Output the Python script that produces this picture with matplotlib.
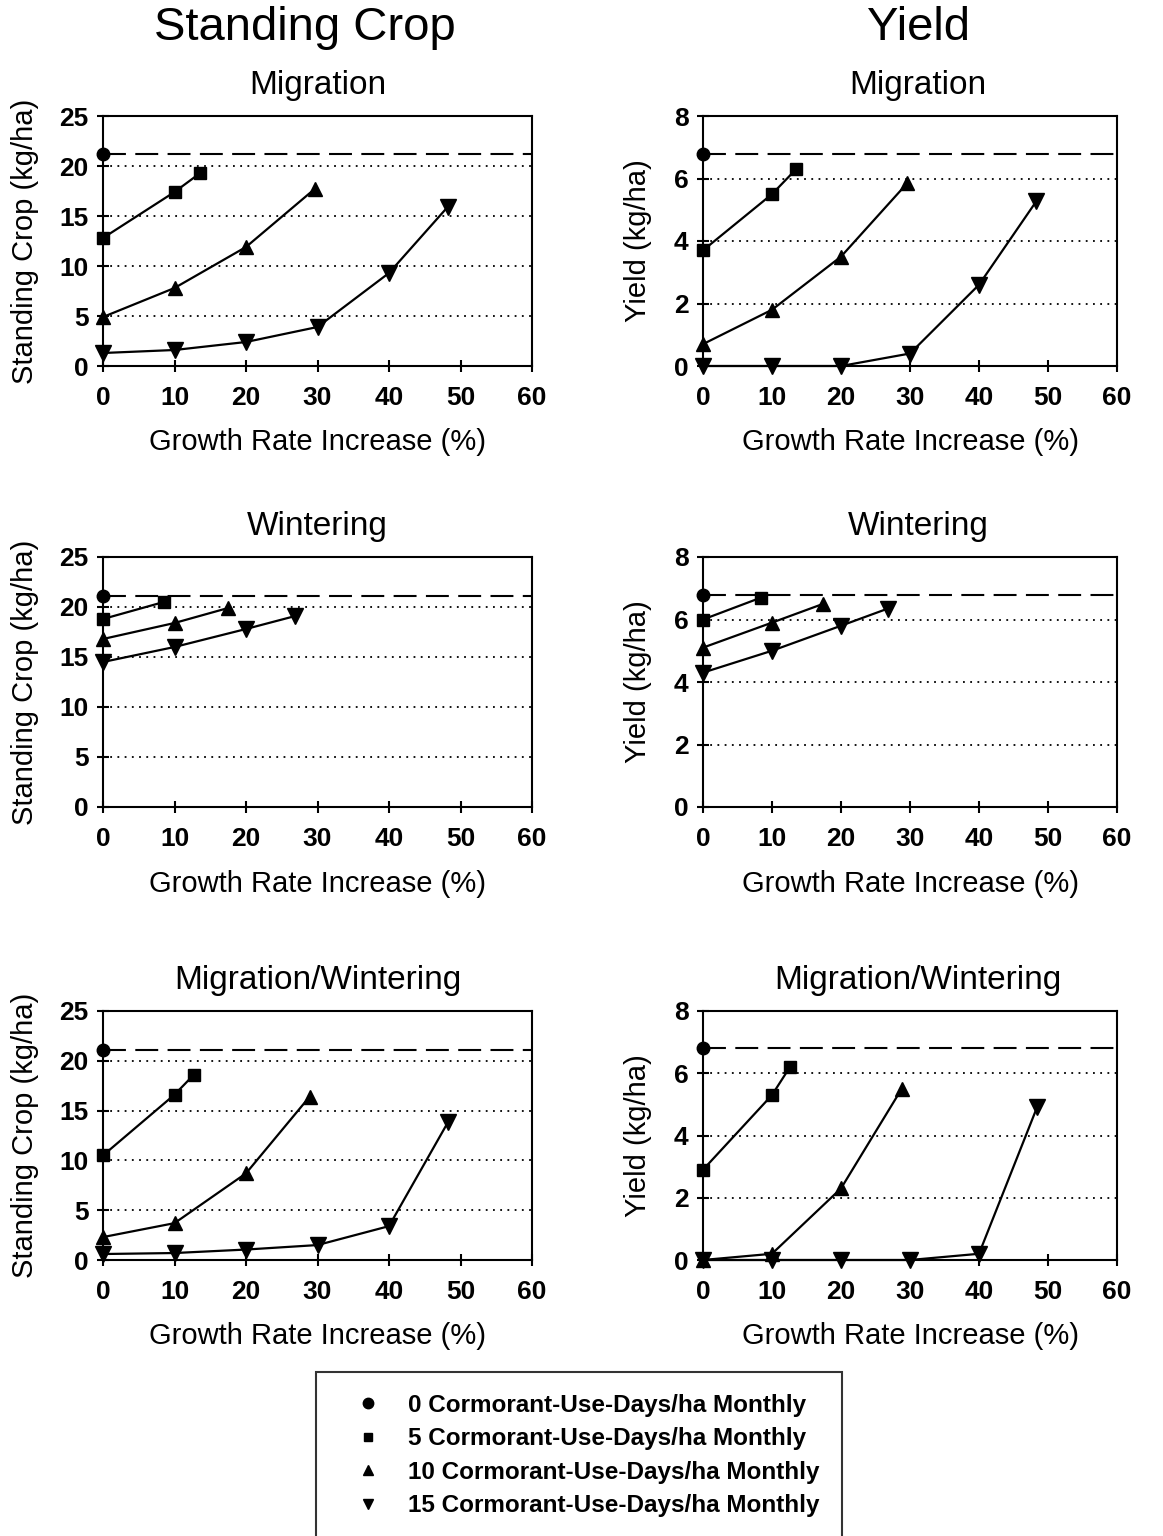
import numpy as np
import matplotlib
matplotlib.use("Agg")
import matplotlib.pyplot as plt
from matplotlib.lines import Line2D

plt.rcParams['font.family'] = ['Liberation Sans', 'DejaVu Sans']

# Growth rate increase (%) and responses
# series: 0, 5, 10, 15 cormorant-use-days/ha monthly
sc_mig_x5 = [0, 10, 13.6]
sc_mig_y5 = [12.8, 17.4, 19.3]
sc_mig_x10 = [0, 10, 20, 29.6]
sc_mig_y10 = [4.9, 7.8, 11.9, 17.7]
sc_mig_x15 = [0, 10, 20, 30, 40, 48.2]
sc_mig_y15 = [1.3, 1.6, 2.4, 3.9, 9.3, 15.9]

yld_mig_x5 = [0, 10, 13.5]
yld_mig_y5 = [3.7, 5.5, 6.3]
yld_mig_x10 = [0, 10, 20, 29.6]
yld_mig_y10 = [0.7, 1.8, 3.5, 5.85]
yld_mig_x15 = [0, 10, 20, 30, 40, 48.3]
yld_mig_y15 = [0, 0, 0, 0.4, 2.6, 5.27]

sc_win_x5 = [0, 8.5]
sc_win_y5 = [18.8, 20.5]
sc_win_x10 = [0, 10, 17.5]
sc_win_y10 = [16.8, 18.4, 19.9]
sc_win_x15 = [0, 10, 20, 26.9]
sc_win_y15 = [14.5, 16.0, 17.8, 19.1]

yld_win_x5 = [0, 8.4]
yld_win_y5 = [6.0, 6.7]
yld_win_x10 = [0, 10, 17.4]
yld_win_y10 = [5.1, 5.9, 6.5]
yld_win_x15 = [0, 10, 20, 26.8]
yld_win_y15 = [4.3, 5.0, 5.8, 6.35]

sc_mw_x5 = [0, 10, 12.7]
sc_mw_y5 = [10.5, 16.6, 18.6]
sc_mw_x10 = [0, 10, 20, 28.9]
sc_mw_y10 = [2.3, 3.7, 8.7, 16.4]
sc_mw_x15 = [0, 10, 20, 30, 40, 48.3]
sc_mw_y15 = [0.6, 0.7, 1.05, 1.5, 3.4, 13.9]

yld_mw_x5 = [0, 10, 12.6]
yld_mw_y5 = [2.9, 5.3, 6.2]
yld_mw_x10 = [0, 10, 20, 28.8]
yld_mw_y10 = [0, 0.2, 2.3, 5.5]
yld_mw_x15 = [0, 10, 20, 30, 40, 48.4]
yld_mw_y15 = [0, 0, 0, 0, 0.2, 4.9]

# no-cormorant baseline (single point at 0 %, also drawn as dashed line)
sc_base = [21.2, 21.1, 21.1]
yld_base = [6.8, 6.8, 6.8]

x_ticks = [0, 10, 20, 30, 40, 50, 60]
sc_ticks = [0, 5, 10, 15, 20, 25]
yld_ticks = [0, 2, 4, 6, 8]

row_titles = ['Migration', 'Wintering', 'Migration/Wintering']
legend_labels = ['0 Cormorant-Use-Days/ha Monthly',
                 '5 Cormorant-Use-Days/ha Monthly',
                 '10 Cormorant-Use-Days/ha Monthly',
                 '15 Cormorant-Use-Days/ha Monthly']

fig = plt.figure(figsize=(11.63, 15.36), dpi=100)
W, H = 1163.0, 1536.0


def panel(left, top, right, bottom, title, base, series, yticks, ylabel, tx, ylx):
    ax = fig.add_axes([left / W, 1 - bottom / H, (right - left) / W, (bottom - top) / H])
    ax.set_xlim(0, 60)
    ax.set_ylim(yticks[0], yticks[-1])
    # dotted grid at inner ticks
    for v in yticks[1:-1]:
        ax.axhline(v, color='black', lw=1.3, ls=(0, (1, 3)), zorder=1)
    ax.axhline(base, color='black', lw=1.5, dashes=(11, 4.5), zorder=1)
    ax.plot([0], [base], 'o', color='black', ms=9, clip_on=False, zorder=5)
    for (xs, ys), m, ms in zip(series, ['s', '^', 'v'], [8.5, 10.5, 11]):
        ax.plot(xs, ys, '-', marker=m, color='black', lw=1.6, ms=ms,
                clip_on=False, zorder=4)
    ax.set_xticks(x_ticks)
    ax.set_yticks(yticks)
    ax.tick_params(direction='inout', length=9, width=1.5, labelsize=19)
    ax.tick_params(axis='x', pad=10)
    ax.tick_params(axis='y', pad=6)
    for lab in ax.get_xticklabels() + ax.get_yticklabels():
        lab.set_fontweight('bold')
    for s in ax.spines.values():
        s.set_linewidth(1.5)
    ax.set_xlabel('Growth Rate Increase (%)', fontsize=21)
    ax.set_ylabel(ylabel, fontsize=21)
    ax.xaxis.set_label_coords(0.5, -0.25)
    ax.yaxis.set_label_coords(ylx, 0.5)
    ax.set_title(title, fontsize=24, pad=16, x=tx)
    return ax


tops = [116, 557, 1011]
bots = [366, 807, 1260]
sc_series = [
    [(sc_mig_x5, sc_mig_y5), (sc_mig_x10, sc_mig_y10), (sc_mig_x15, sc_mig_y15)],
    [(sc_win_x5, sc_win_y5), (sc_win_x10, sc_win_y10), (sc_win_x15, sc_win_y15)],
    [(sc_mw_x5, sc_mw_y5), (sc_mw_x10, sc_mw_y10), (sc_mw_x15, sc_mw_y15)],
]
yld_series = [
    [(yld_mig_x5, yld_mig_y5), (yld_mig_x10, yld_mig_y10), (yld_mig_x15, yld_mig_y15)],
    [(yld_win_x5, yld_win_y5), (yld_win_x10, yld_win_y10), (yld_win_x15, yld_win_y15)],
    [(yld_mw_x5, yld_mw_y5), (yld_mw_x10, yld_mw_y10), (yld_mw_x15, yld_mw_y15)],
]

for i in range(3):
    panel(103, tops[i], 532, bots[i], row_titles[i], sc_base[i], sc_series[i],
          sc_ticks, 'Standing Crop (kg/ha)', 0.5, -0.15)
    panel(703, tops[i], 1117, bots[i], row_titles[i], yld_base[i], yld_series[i],
          yld_ticks, 'Yield (kg/ha)', 0.52, -0.123)

fig.text(305 / W, 1 - 28 / H, 'Standing Crop', fontsize=34, ha='center', va='center')
fig.text(919 / W, 1 - 28 / H, 'Yield', fontsize=34, ha='center', va='center')

# legend with marker-only handles (box runs off the bottom edge, as in the scan)
handles = [Line2D([], [], ls='none', marker=m, color='black', ms=ms)
           for m, ms in zip(['o', 's', '^', 'v'], [7.5, 6, 7.5, 7.5])]
leg = fig.legend(handles, legend_labels, loc='upper left',
                 bbox_to_anchor=(316 / W, 1 - 1372 / H), frameon=True,
                 fancybox=False, edgecolor='black', handlelength=2.45,
                 handletextpad=0.45, borderpad=0.9, labelspacing=0.43,
                 borderaxespad=0, prop={'size': 17.5, 'weight': 'bold'})
leg.get_frame().set_linewidth(1.5)

fig.savefig('out.png', dpi=100)
